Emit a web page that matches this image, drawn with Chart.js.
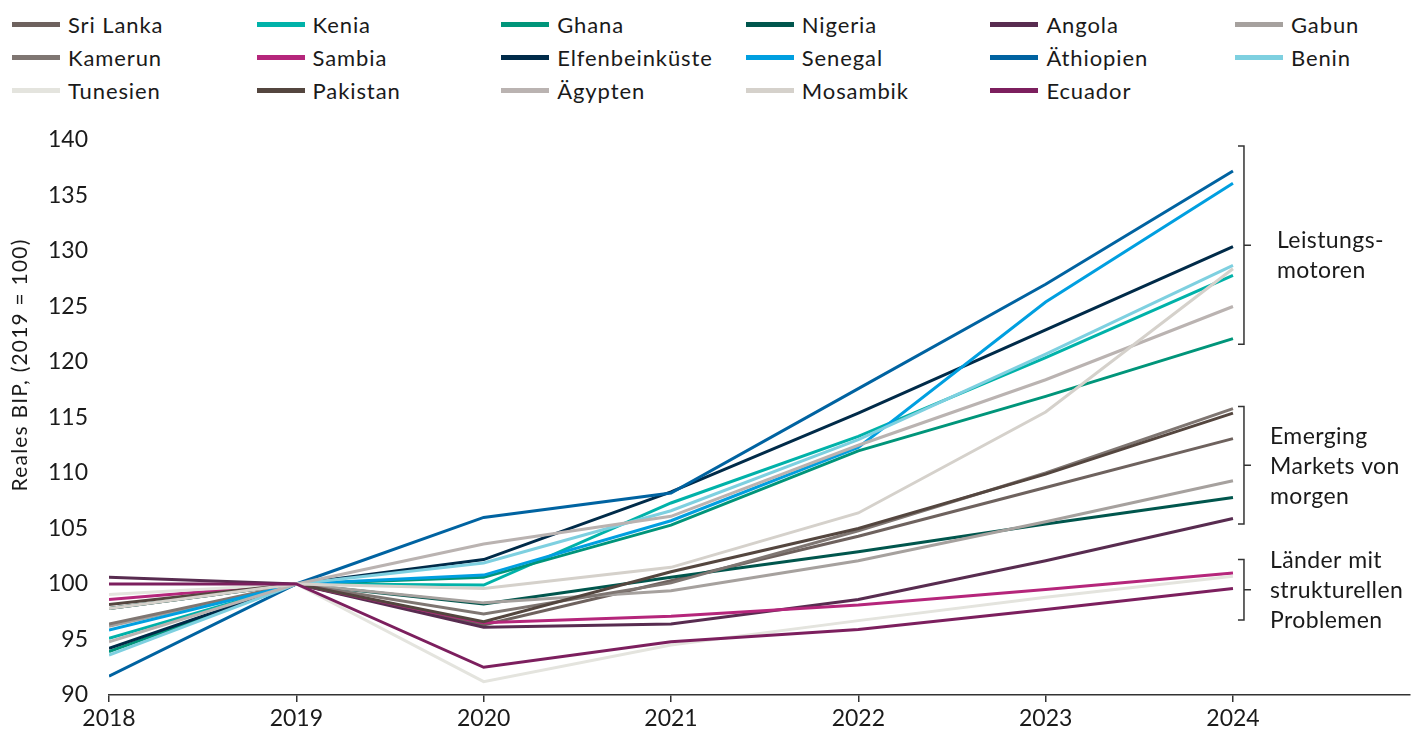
<!DOCTYPE html>
<html lang="de">
<head>
<meta charset="utf-8">
<title>Reales BIP (2019 = 100)</title>
<script src="https://cdn.jsdelivr.net/npm/chart.js@4.4.1/dist/chart.umd.min.js"></script>
<style>
    html, body { margin: 0; padding: 0; background: #fff; }
    body {
        width: 1413px; height: 736px; position: relative; overflow: hidden;
        font-family: Lato, "Open Sans", sans-serif; color: #1a1a1a;
    }
    #legend {
        position: absolute; left: 12px; top: 8px;
        display: grid; grid-template-columns: repeat(6, 244.6px); grid-auto-rows: 33px;
    }
    .item { display: flex; align-items: center; font-size: 22px; letter-spacing: 0.9px; white-space: nowrap; }
    .swatch { width: 48px; height: 5px; margin-right: 8px; flex: none; }
    #chart { position: absolute; left: 0; top: 0; }
</style>
</head>
<body>
<div id="legend"></div>
<canvas id="chart" width="1413" height="736"></canvas>
<script>
// Jahre
const years = [2018, 2019, 2020, 2021, 2022, 2023, 2024];

// Reales BIP, 2019 = 100
const sriLanka        = [97.8, 100, 96.3, 100.3, 104.3, 108.7, 113.1];
const kenia           = [95.1, 100, 99.9, 107.3, 113.3, 120.4, 127.8];
const ghana           = [93.9, 100, 100.6, 105.3, 112.0, 116.9, 122.1];
const nigeria         = [97.8, 100, 98.2, 100.6, 102.9, 105.4, 107.8];
const angola          = [100.6, 100, 96.1, 96.4, 98.6, 102.1, 105.9];
const gabun           = [96.2, 100, 98.3, 99.4, 102.1, 105.6, 109.3];
const kamerun         = [96.4, 100, 97.3, 100.1, 104.8, 110.0, 115.8];
const sambia          = [98.6, 100, 96.5, 97.1, 98.1, 99.5, 101.0];
const elfenbeinkueste = [94.2, 100, 102.2, 108.3, 115.4, 122.9, 130.4];
const senegal         = [95.85, 100, 100.8, 105.7, 112.3, 125.4, 136.1];
const aethiopien      = [91.7, 100, 106.0, 108.2, 117.6, 127.0, 137.2];
const benin           = [93.6, 100, 101.9, 106.6, 113.0, 120.7, 128.7];
const tunesien        = [99.05, 100, 91.2, 94.5, 96.7, 98.8, 100.7];
const pakistan        = [98.15, 100, 96.6, 101.1, 105.0, 109.9, 115.4];
const aegypten        = [94.8, 100, 103.6, 106.1, 112.5, 118.4, 125.0];
const mosambik        = [97.8, 100, 99.6, 101.5, 106.4, 115.5, 128.4];
const ecuador         = [100.0, 100, 92.5, 94.8, 95.9, 97.7, 99.6];

const countries = ['Sri Lanka', 'Kenia', 'Ghana', 'Nigeria', 'Angola', 'Gabun',
    'Kamerun', 'Sambia', 'Elfenbeinküste', 'Senegal', 'Äthiopien', 'Benin',
    'Tunesien', 'Pakistan', 'Ägypten', 'Mosambik', 'Ecuador'];
const series = [sriLanka, kenia, ghana, nigeria, angola, gabun,
    kamerun, sambia, elfenbeinkueste, senegal, aethiopien, benin,
    tunesien, pakistan, aegypten, mosambik, ecuador];
const colors = ['#6e625e', '#00b2a9', '#00957a', '#00564d', '#582c50', '#a6a19e',
    '#7f7672', '#b5267b', '#002b49', '#009fe0', '#0063a1', '#7ed0e0',
    '#e4e4de', '#54463f', '#bab3b1', '#d5d1cb', '#7c1f5e'];

// Gruppen rechts (Klammern)
const groupLabels = [['Leistungs-', 'motoren'], ['Emerging', 'Markets von', 'morgen'], ['Länder mit', 'strukturellen', 'Problemen']];
const groupTop    = [139.45, 116.0, 102.2];
const groupBottom = [121.6, 105.4, 96.75];

const yTitle = 'Reales BIP, (2019 = 100)';

document.addEventListener('DOMContentLoaded', function() {
    Chart.defaults.font.family = 'Lato, "Open Sans", sans-serif';
    Chart.defaults.color = '#1a1a1a';

    // Legende als HTML-Raster
    const legend = document.getElementById('legend');
    countries.forEach((name, i) => {
        const item = document.createElement('div');
        item.className = 'item';
        const sw = document.createElement('span');
        sw.className = 'swatch';
        sw.style.background = colors[i];
        item.appendChild(sw);
        item.appendChild(document.createTextNode(name));
        legend.appendChild(item);
    });

    // Klammern, Gruppentexte und Achsentitel
    const bracketPlugin = {
        id: 'brackets',
        afterDatasetsDraw(chart) {
            const { ctx, chartArea, scales: { x, y } } = chart;
            const bx = x.getPixelForValue(2024) + 11;
            ctx.save();
            ctx.strokeStyle = '#333';
            ctx.lineWidth = 1.5;
            ctx.fillStyle = '#1a1a1a';
            ctx.font = '23px Lato, "Open Sans", sans-serif';
            ctx.letterSpacing = '0.4px';
            ctx.textBaseline = 'middle';
            ctx.textAlign = 'left';
            groupLabels.forEach((lines, i) => {
                const top = y.getPixelForValue(groupTop[i]);
                const bottom = y.getPixelForValue(groupBottom[i]);
                const mid = (top + bottom) / 2;
                ctx.beginPath();
                ctx.moveTo(bx - 6, top);
                ctx.lineTo(bx, top);
                ctx.lineTo(bx, bottom);
                ctx.lineTo(bx - 6, bottom);
                ctx.moveTo(bx, mid);
                ctx.lineTo(bx + 7, mid);
                ctx.stroke();
                const tx = i === 0 ? bx + 33 : bx + 26;
                const cy = i === 0 ? mid + 10 : mid + 1;
                lines.forEach((t, j) => {
                    ctx.fillText(t, tx, cy + (j - (lines.length - 1) / 2) * 30);
                });
            });

            // Achsentitel
            ctx.translate(20, chartArea.top + 225);
            ctx.rotate(-Math.PI / 2);
            ctx.textAlign = 'center';
            ctx.font = '21px Lato, "Open Sans", sans-serif';
            ctx.letterSpacing = '1.2px';
            ctx.fillText(yTitle, 0, 0);
            ctx.restore();
        }
    };

    const ctx = document.getElementById('chart').getContext('2d');
    new Chart(ctx, {
        type: 'line',
        data: {
            datasets: series.map((values, i) => ({
                label: countries[i],
                data: values.map((v, j) => ({ x: years[j], y: v })),
                borderColor: colors[i],
                backgroundColor: colors[i],
                borderWidth: 3,
                pointRadius: 0,
                tension: 0,
                fill: false,
                order: -i
            }))
        },
        options: {
            responsive: false,
            animation: false,
            layout: { padding: { top: 140, right: 3, bottom: 0, left: 0 } },
            plugins: {
                legend: { display: false },
                tooltip: { enabled: false }
            },
            scales: {
                x: {
                    type: 'linear',
                    min: 2018,
                    max: 2024.945,
                    afterBuildTicks: scale => { scale.ticks = years.map(v => ({ value: v })); },
                    afterFit: scale => { scale.height = 41; },
                    ticks: {
                        callback: v => String(v),
                        font: { size: 23 },
                        padding: 3,
                        maxRotation: 0
                    },
                    grid: {
                        display: true,
                        drawOnChartArea: false,
                        drawTicks: true,
                        tickLength: 7,
                        color: '#333',
                        lineWidth: 1.5
                    },
                    border: { display: true, color: '#333', width: 1.5 }
                },
                y: {
                    min: 90,
                    max: 140,
                    afterFit: scale => { scale.width = 109; },
                    ticks: { stepSize: 5, font: { size: 23 }, padding: 21 },
                    grid: { display: false, drawTicks: false },
                    border: { display: false }
                }
            }
        },
        plugins: [bracketPlugin]
    });
});
</script>
</body>
</html>
